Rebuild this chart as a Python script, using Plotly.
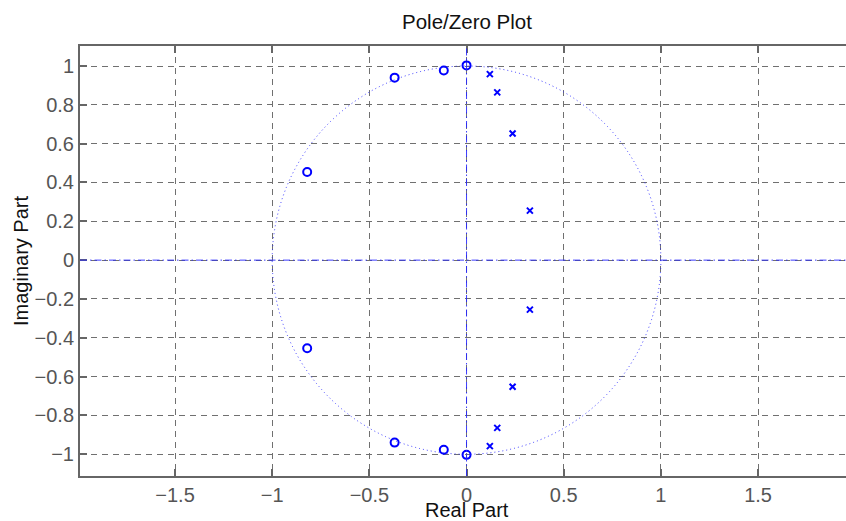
import plotly.graph_objects as go

# ---- data ----
zeros_re = [-0.82, -0.82, -0.37, -0.37, -0.117, -0.117, 0.0, 0.0]
zeros_im = [0.454, -0.454, 0.940, -0.940, 0.977, -0.977, 1.003, -1.003]
poles_re = [0.12, 0.12, 0.158, 0.158, 0.237, 0.237, 0.326, 0.326]
poles_im = [0.958, -0.958, 0.864, -0.864, 0.652, -0.652, 0.255, -0.255]
unit_radius = 1.0
x_ticks = [-1.5, -1, -0.5, 0, 0.5, 1, 1.5]
y_ticks = [-1, -0.8, -0.6, -0.4, -0.2, 0, 0.2, 0.4, 0.6, 0.8, 1]
x_range = [-1.989, 1.9526]
y_range = [-1.112, 1.103]

FONT = "Liberation Sans, Arial, Helvetica, sans-serif"
BLUE = "#0000ff"
GRID = "#707070"
AXIS = "#666666"

fig = go.Figure()

fig.add_trace(go.Scatter(
    x=zeros_re, y=zeros_im, mode="markers",
    marker=dict(symbol="circle-open", size=8, color=BLUE, line=dict(width=2, color=BLUE)),
    showlegend=False, hoverinfo="x+y"))
fig.add_trace(go.Scatter(
    x=poles_re, y=poles_im, mode="markers",
    marker=dict(symbol="x-thin-open", size=6, color=BLUE, line=dict(width=2, color=BLUE)),
    showlegend=False, hoverinfo="x+y"))

# unit circle (dotted)
fig.add_shape(type="circle", xref="x", yref="y",
              x0=-unit_radius, x1=unit_radius, y0=-unit_radius, y1=unit_radius,
              line=dict(color="rgba(40,40,255,0.9)", width=1, dash="1px,3px"), layer="above")
# real and imaginary axes (dash-dot)
fig.add_shape(type="line", xref="paper", yref="y", x0=0, x1=1, y0=0, y1=0,
              line=dict(color="rgba(40,40,255,0.9)", width=1, dash="7px,3px,1.5px,3px"))
fig.add_shape(type="line", xref="x", yref="paper", x0=0, x1=0, y0=0, y1=1,
              line=dict(color="rgba(40,40,255,0.9)", width=1, dash="7px,3px,1.5px,3px"))

def fmt(v):
    return ("\u2212" if v < 0 else "") + f"{abs(v):g}"

fig.update_xaxes(
    range=x_range, tickvals=x_ticks, ticktext=[fmt(v) for v in x_ticks],
    showgrid=True, gridcolor=GRID, gridwidth=1.2, griddash="6px,5px",
    zeroline=False, showline=True, linecolor=AXIS, linewidth=2, mirror="ticks",
    ticks="inside", ticklen=7, tickwidth=1.5, tickcolor=AXIS,
    tickfont=dict(family=FONT, size=20, color="#555555"), fixedrange=True)
fig.update_yaxes(
    range=y_range, tickvals=y_ticks, ticktext=[fmt(v) for v in y_ticks],
    showgrid=True, gridcolor=GRID, gridwidth=1.2, griddash="6px,5px",
    zeroline=False, showline=True, linecolor=AXIS, linewidth=2, mirror=False,
    ticks="inside", ticklen=7, tickwidth=1.5, tickcolor=AXIS,
    tickfont=dict(family=FONT, size=20, color="#555555"), fixedrange=True)

fig.add_annotation(text="Pole/Zero Plot", xref="paper", yref="paper", x=(466.6 - 80) / 766, y=1,
                   yanchor="bottom", yshift=11, showarrow=False,
                   font=dict(family=FONT, size=20.5, color="#111111"))
fig.add_annotation(text="Real Part", xref="paper", yref="paper", x=(466.6 - 80) / 766, y=0,
                   yanchor="middle", yshift=-34, height=20, borderpad=0, showarrow=False,
                   font=dict(family=FONT, size=20, color="#111111"))
fig.add_annotation(text="Imaginary Part", xref="paper", yref="paper", x=0, y=0.5,
                   xanchor="center", xshift=-59, textangle=-90, showarrow=False,
                   font=dict(family=FONT, size=20, color="#111111"))

fig.update_layout(
    width=846, height=521,
    margin=dict(l=80, r=0, t=46, b=45),
    paper_bgcolor="white", plot_bgcolor="white",
    showlegend=False)

fig.write_html("out.html", config={"displayModeBar": False},
               post_script="document.body.style.margin='0';document.body.style.overflow='hidden';")
